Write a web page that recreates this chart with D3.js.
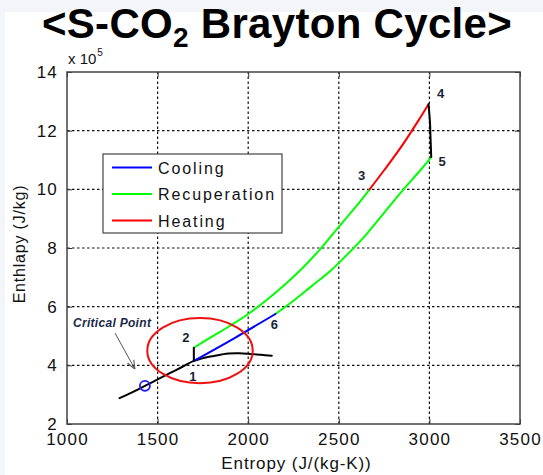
<!DOCTYPE html>
<html>
<head>
<meta charset="utf-8">
<script src="https://cdn.jsdelivr.net/npm/d3@7/dist/d3.min.js"></script>
<style>
  html, body { margin: 0; padding: 0; background: #f3f5f8; }
  svg { display: block; }
  text { font-family: "Liberation Sans", Arial, Helvetica, sans-serif; }
</style>
</head>
<body>
<svg id="chart" width="543" height="475"></svg>
<script>
// Axis ticks
const xTicks = [1000, 1500, 2000, 2500, 3000, 3500];
const yTicks = [2, 4, 6, 8, 10, 12, 14];

// Saturation dome (entropy J/(kg-K), enthalpy x 1e5 J/kg)
const satS = [1290, 1350, 1430, 1500, 1570, 1640, 1700, 1760, 1810, 1890, 1950, 2010, 2070, 2130];
const satH = [2.88, 3.05, 3.30, 3.52, 3.74, 3.96, 4.15, 4.26, 4.32, 4.40, 4.41, 4.39, 4.36, 4.33];

// Critical point
const critS = [1430];
const critH = [3.30];

// Cycle state points
const stateLabels = ["1", "2", "3", "4", "5", "6"];
const stateS = [1700, 1700, 2670, 2995, 3010, 2150];
const stateH = [4.15, 4.60, 10.0, 12.9, 11.1, 5.75];

// Cooling 1 <- 6
const coolS = [1700, 1925, 2150];
const coolH = [4.15, 4.93, 5.75];

// Recuperation, high-pressure side 2 -> 3
const recHiS = [1700, 1800, 1900, 2000, 2100, 2200, 2300, 2400, 2500, 2600, 2670];
const recHiH = [4.60, 4.98, 5.35, 5.75, 6.22, 6.74, 7.32, 7.98, 8.72, 9.45, 10.0];

// Recuperation, low-pressure side 6 <- 5
const recLoS = [2150, 2250, 2350, 2450, 2550, 2650, 2750, 2850, 2950, 3010];
const recLoH = [5.75, 6.20, 6.70, 7.20, 7.80, 8.45, 9.20, 9.95, 10.65, 11.10];

// Heating 3 -> 4
const heatS = [2670, 2750, 2850, 2950, 2995];
const heatH = [10.0, 10.65, 11.5, 12.45, 12.9];

// Compression 1 -> 2 and expansion 4 -> 5
const compS = [1700, 1700];
const compH = [4.15, 4.60];
const expS = [2995, 3003, 3006, 3010];
const expH = [12.9, 12.3, 11.8, 11.1];

// Highlight ellipse around the compressor region
const ringS = [1734], ringH = [4.50], ringRS = [291], ringRH = [1.11];

// Critical point annotation: text anchor and arrow ends
const noteText = "Critical Point";
const noteS = [1033], noteH = [5.30];
const arrowS = [1265, 1375], arrowH = [5.10, 3.87];

const legendNames = ["Cooling", "Recuperation", "Heating"];
const legendColors = ["#0000ff", "#00ff00", "#ff0000"];

const svg = d3.select("#chart");

// white figure area
svg.append("rect").attr("x", 5).attr("y", 12).attr("width", 538).attr("height", 463).attr("fill", "#ffffff");

const margin = { left: 67, right: 23, top: 72, bottom: 51 };
const W = 543, H = 475;
const x = d3.scaleLinear().domain([1000, 3500]).range([margin.left, W - margin.right]);
const y = d3.scaleLinear().domain([2, 14]).range([H - margin.bottom, margin.top]);

const plot = svg.append("g");

// grid lines
plot.selectAll("line.gx").data(xTicks.slice(1, -1)).join("line")
  .attr("x1", d => x(d)).attr("x2", d => x(d))
  .attr("y1", y(2)).attr("y2", y(14))
  .attr("stroke", "#111").attr("stroke-width", 1.2).attr("stroke-dasharray", "2.5,2.5");
plot.selectAll("line.gy").data(yTicks.slice(1, -1)).join("line")
  .attr("y1", d => y(d)).attr("y2", d => y(d))
  .attr("x1", x(1000)).attr("x2", x(3500))
  .attr("stroke", "#111").attr("stroke-width", 1.2).attr("stroke-dasharray", "2.5,2.5");

// axes (ticks inward, labels outside)
const fmt = d3.format("d");
const axB = d3.axisBottom(x).tickValues(xTicks).tickSizeInner(-5).tickSizeOuter(0).tickPadding(9).tickFormat(fmt);
const axT = d3.axisTop(x).tickValues(xTicks).tickSizeInner(-5).tickSizeOuter(0).tickFormat("");
const axL = d3.axisLeft(y).tickValues(yTicks).tickSizeInner(-5).tickSizeOuter(0).tickPadding(9).tickFormat(fmt);
const axR = d3.axisRight(y).tickValues(yTicks).tickSizeInner(-5).tickSizeOuter(0).tickFormat("");

function styleAxis(g) {
  g.select(".domain").remove();
  g.selectAll(".tick line").attr("stroke", "#333");
  g.selectAll("text").attr("fill", "#111").style("font-size", "17px").style("letter-spacing", "1.2px").attr("font-family", null);
}
svg.append("g").attr("transform", `translate(0,${y(2)})`).call(axB).call(styleAxis);
svg.append("g").attr("transform", `translate(0,${y(14)})`).call(axT).call(styleAxis);
svg.append("g").attr("transform", `translate(${x(1000)},0)`).call(axL).call(styleAxis);
svg.append("g").attr("transform", `translate(${x(3500)},0)`).call(axR).call(styleAxis);

// axis box
svg.append("rect").attr("x", x(1000)).attr("y", y(14))
  .attr("width", x(3500) - x(1000)).attr("height", y(2) - y(14))
  .attr("fill", "none").attr("stroke", "#444").attr("stroke-width", 1.5);

// exponent label: base and superscript
const exBase = svg.append("text").attr("x", x(1000) + 1).attr("y", y(14) - 8)
  .style("font-size", "15px").attr("fill", "#111").text("x 10");
const exW = exBase.node().getComputedTextLength();
svg.append("text").attr("x", x(1000) + 2 + exW).attr("y", y(14) - 16)
  .style("font-size", "10px").attr("fill", "#111").text("5");

// axis titles
svg.append("text").attr("x", (x(1000) + x(3500)) / 2 + 3).attr("y", 469)
  .attr("text-anchor", "middle").style("font-size", "17px").style("letter-spacing", "0.9px")
  .attr("fill", "#111").text("Entropy (J/(kg-K))");
svg.append("text").attr("transform", `translate(25,${(y(2) + y(14)) / 2 - 4}) rotate(-90)`)
  .attr("text-anchor", "middle").style("font-size", "16px").style("letter-spacing", "0.8px")
  .attr("fill", "#111").text("Enthlapy (J/kg)");

// curves
const line = d3.line().x(d => x(d[0])).y(d => y(d[1])).curve(d3.curveCatmullRom);
const zip = (a, b) => a.map((v, i) => [v, b[i]]);
function drawCurve(sArr, hArr, color) {
  plot.append("path").datum(zip(sArr, hArr)).attr("d", line)
    .attr("fill", "none").attr("stroke", color).attr("stroke-width", 2)
    .attr("stroke-linejoin", "round").attr("stroke-linecap", "round");
}
drawCurve(satS, satH, "#000000");
drawCurve(recHiS, recHiH, "#00ff00");
drawCurve(recLoS, recLoH, "#00ff00");
drawCurve(coolS, coolH, "#0000ff");
drawCurve(heatS, heatH, "#ff0000");
drawCurve(compS, compH, "#000000");
drawCurve(expS, expH, "#000000");

// critical point marker
plot.selectAll("circle.crit").data(zip(critS, critH)).join("circle")
  .attr("cx", d => x(d[0])).attr("cy", d => y(d[1])).attr("r", 5)
  .attr("fill", "none").attr("stroke", "#1a1aff").attr("stroke-width", 1.8);

// highlight ellipse
plot.selectAll("ellipse.ring").data(ringS.map((s, i) => ({ s, h: ringH[i], rs: ringRS[i], rh: ringRH[i] }))).join("ellipse")
  .attr("cx", d => x(d.s)).attr("cy", d => y(d.h))
  .attr("rx", d => x(d.s + d.rs) - x(d.s)).attr("ry", d => y(d.h - d.rh) - y(d.h))
  .attr("fill", "none").attr("stroke", "#ee1111").attr("stroke-width", 2);

// state labels
const labelOffsets = { "1": [-1, 20], "2": [-8, -6], "3": [-8, -9], "4": [12, -6], "5": [11, 9], "6": [-1, 15] };
plot.selectAll("text.state").data(stateLabels).join("text")
  .attr("x", (d, i) => x(stateS[i]) + labelOffsets[d][0])
  .attr("y", (d, i) => y(stateH[i]) + labelOffsets[d][1])
  .attr("text-anchor", "middle").style("font-size", "13px").style("font-weight", "bold")
  .attr("fill", "#1a1f36").text(d => d);

// critical point annotation
svg.append("text").attr("x", x(noteS[0])).attr("y", y(noteH[0]))
  .style("font-size", "12px").style("font-weight", "bold").style("font-style", "italic")
  .style("letter-spacing", "0.3px").attr("fill", "#1c2a4a").text(noteText);
svg.append("defs").append("marker").attr("id", "arr").attr("viewBox", "0 0 10 10")
  .attr("refX", 10).attr("refY", 5).attr("markerWidth", 9).attr("markerHeight", 9)
  .attr("orient", "auto").append("path").attr("d", "M0,1 L10,5 L0,9")
  .attr("fill", "none").attr("stroke", "#555").attr("stroke-width", 1.2);
svg.append("line").attr("x1", x(arrowS[0])).attr("y1", y(arrowH[0]))
  .attr("x2", x(arrowS[1])).attr("y2", y(arrowH[1]))
  .attr("stroke", "#555").attr("stroke-width", 1).attr("marker-end", "url(#arr)");

// legend
const lg = svg.append("g").attr("transform", "translate(103,154)");
lg.append("rect").attr("width", 179).attr("height", 79).attr("fill", "#fff")
  .attr("stroke", "#444").attr("stroke-width", 1.2);
legendNames.forEach((name, i) => {
  const cy = 13.5 + i * 26.5;
  lg.append("line").attr("x1", 9).attr("x2", 49).attr("y1", cy).attr("y2", cy)
    .attr("stroke", legendColors[i]).attr("stroke-width", 2);
  lg.append("text").attr("x", 55).attr("y", cy + 6).style("font-size", "16px")
    .style("letter-spacing", "1.9px").attr("fill", "#111").text(name);
});

// title
const t = svg.append("text").attr("x", 277).attr("y", 38).attr("text-anchor", "middle")
  .style("font-size", "42px").style("font-weight", "bold").style("letter-spacing", "0.3px").attr("fill", "#000");
t.append("tspan").text("<S-CO");
t.append("tspan").text("2").style("font-size", "28px").attr("dy", 9);
t.append("tspan").text(" Brayton Cycle>").attr("dy", -9);
</script>
</body>
</html>
